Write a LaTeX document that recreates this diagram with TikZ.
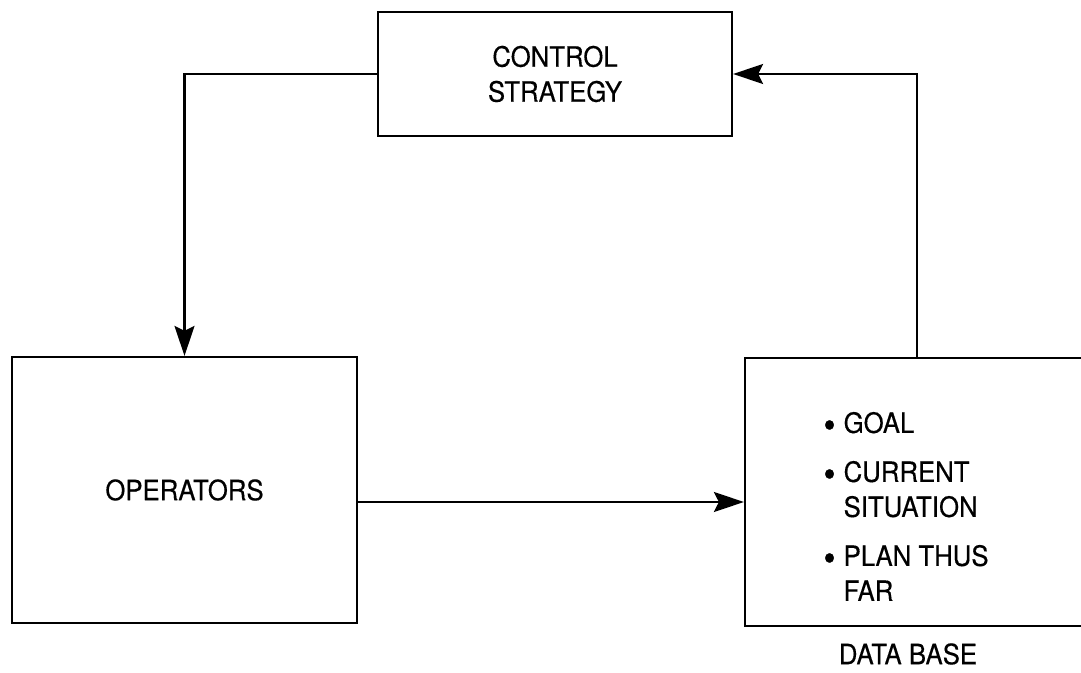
\documentclass[tikz,border=0pt]{standalone}
\usepackage{fontspec}
\setmainfont{TeX Gyre Heros}[FakeStretch=0.92,FakeBold=0.4]
\usepackage{tikz}
\usetikzlibrary{positioning,arrows.meta}
\tikzset{rec/.style={rectangle,draw,line width=1.1pt,inner sep=0pt,align=center,font=\fontsize{14}{17.5}\selectfont}}
\tikzset{txt/.style={inner sep=0pt,align=left,font=\fontsize{14}{17.5}\selectfont}}
\newcommand{\dbdot}{\raisebox{-2.6pt}{\fontsize{19}{17.5}\selectfont\textbullet}}

\begin{document}
\begin{tikzpicture}[x=0.5pt,y=-0.5pt,>={Stealth[length=15pt,width=10pt,inset=2.5pt]}]
        \useasboundingbox (0,0) rectangle (1081,673);
        \node[rec, minimum width=177pt, minimum height=62pt] (ctrl) at (555,74) {CONTROL\\STRATEGY};
        \node[rec, minimum width=172.5pt, minimum height=133pt] (ops) at (184.5,490) {OPERATORS};
        \node[rec, minimum width=172pt, minimum height=134pt] (db) at (917,492) {};
        \node[txt, anchor=north west] (items) at (823,408) {%
            \begin{tabular}{@{}l@{\hspace{4pt}}l@{}}
            \dbdot & GOAL\\[7pt]
            \dbdot & CURRENT\\
                   & SITUATION\\[7pt]
            \dbdot & PLAN THUS\\
                   & FAR
            \end{tabular}};
        \node[txt] (dbname) at (908,654) {DATA BASE};

        \draw [->, line width=1.1pt] (ctrl.west) -| (ops.north);
        \draw [->, line width=1.1pt] (db.north) |- (ctrl.east);
        \draw [->, line width=1.1pt] ([yshift=-6pt]ops.east) -- ([yshift=-6pt]ops.east -| db.west);

\end{tikzpicture}
\end{document}
